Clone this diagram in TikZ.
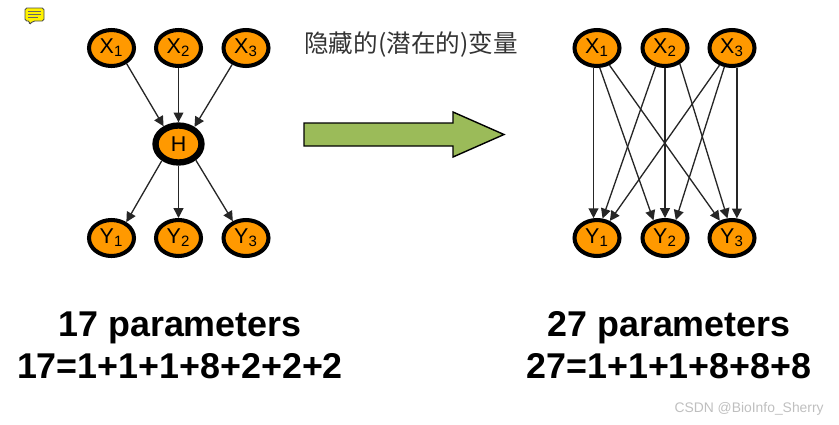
\documentclass[tikz,border=0pt]{standalone}
\usepackage{fontspec}
\setmainfont{Liberation Sans}
\newfontfamily\cjk{Noto Sans CJK SC}
\usetikzlibrary{shapes.geometric,arrows.meta}
\definecolor{varorange}{HTML}{FF9900}
\definecolor{blockgreen}{HTML}{9BBB59}
\tikzset{
    var/.style={ellipse, draw=black, fill=varorange, line width=2.3pt, minimum width=0.9cm,
        minimum height=0.72cm, inner sep=0pt, font=\fontsize{12.2pt}{14pt}\selectfont},
    hidden/.style={var, line width=3.6pt, minimum width=0.92cm, minimum height=0.74cm},
    dep/.style={-{Stealth[length=5.6pt,width=5.6pt,inset=0pt]}, line width=0.75pt, black!85},
    count/.style={font=\bfseries\fontsize{20.4pt}{22pt}\selectfont},
}
\begin{document}
\begin{tikzpicture}[x=0.02cm, y=-0.02cm]
\useasboundingbox (0,0) rectangle (839,424);
% note icon
\fill[yellow, draw=black!70, line width=0.5pt, rounded corners=1pt]
    (25,8) -- (44,8) -- (44,21) -- (33,21) -- (29,25) -- (30,21) -- (25,21) -- cycle;
\draw[black!60, line width=0.4pt] (28,11) -- (41,11) (28,14) -- (41,14) (28,17) -- (38,17);
% left network
\node[var] (x1) at (111.5,48) {X\textsubscript{1}};
\node[var] (x2) at (178.5,48) {X\textsubscript{2}};
\node[var] (x3) at (246,48) {X\textsubscript{3}};
\node[hidden] (h) at (178.5,144) {H};
\node[var] (y1) at (111.5,238) {Y\textsubscript{1}};
\node[var] (y2) at (178.5,238) {Y\textsubscript{2}};
\node[var] (y3) at (246,238) {Y\textsubscript{3}};
\draw[dep] (x1.314) -- (h.130);
\draw[dep] (x2) -- (h);
\draw[dep] (x3.230) -- (h.47);
\draw[dep] (h.225) -- (y1.47);
\draw[dep] (h) -- (y2);
\draw[dep] (h.317) -- (y3.128);
% middle
\node[anchor=west, inner sep=0pt, font=\cjk\fontsize{14pt}{16pt}\selectfont, text=black!80] (title) at (304,44) {隐藏的(潜在的)变量};
\draw[fill=blockgreen, line width=0.8pt]
    (304,123) -- (453,123) -- (453,112) -- (504,134.5) -- (453,157) -- (453,146) -- (304,146) -- cycle;
% right network
\node[var] (rx1) at (597,48) {X\textsubscript{1}};
\node[var] (rx2) at (665,48) {X\textsubscript{2}};
\node[var] (rx3) at (732,48) {X\textsubscript{3}};
\node[var] (ry1) at (597,238) {Y\textsubscript{1}};
\node[var] (ry2) at (665,238) {Y\textsubscript{2}};
\node[var] (ry3) at (732,238) {Y\textsubscript{3}};
\draw[dep] (rx1.260) -- (ry1.100);
\draw[dep] (rx1.278) -- (ry2.123);
\draw[dep] (rx1.306) -- (ry3.125);
\draw[dep] (rx2.243) -- (ry1.74);
\draw[dep] (rx2.270) -- (ry2.90);
\draw[dep] (rx2.313) -- (ry3.103);
\draw[dep] (rx3.234) -- (ry1.53);
\draw[dep] (rx3.248) -- (ry2.59);
\draw[dep] (rx3.284) -- (ry3.76);
% parameter counts
\node[count] (lcount) at (180,328) {17 parameters};
\node[count] (lsum) at (180,366) {17=1+1+1+8+2+2+2};
\node[count] (rcount) at (669,328) {27 parameters};
\node[count] (rsum) at (669,366) {27=1+1+1+8+8+8};
% watermark
\node[anchor=east, inner sep=0pt, text=black!25, font=\fontsize{7.9pt}{9pt}\selectfont] (mark) at (824,409) {CSDN @BioInfo\_Sherry};
\end{tikzpicture}
\end{document}
